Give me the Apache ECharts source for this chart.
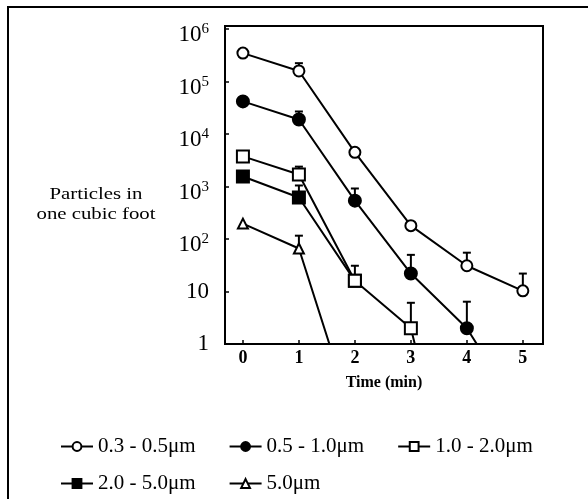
<!DOCTYPE html>
<html>
<head>
<meta charset="utf-8">
<script src="https://cdn.jsdelivr.net/npm/echarts@6/dist/echarts.min.js"></script>
<style>
html, body { margin: 0; padding: 0; background: #fff; }
#chart { width: 588px; height: 499px; }
</style>
</head>
<body>
<div id="chart"></div>
<script>
// 时间 (min)
var times = [0, 1, 2, 3, 4, 5]
var names = ['0.3 - 0.5μm', '0.5 - 1.0μm', '1.0 - 2.0μm', '2.0 - 5.0μm', '5.0μm']

// 每立方英尺粒子数 (values below 1 fall off the axis and get clipped)
var fine = [350000, 160000, 4500, 180, 31, 10.3]
var small = [42000, 19000, 540, 22, 2.0, 0.04]
var medium = [3760, 1700, 16, 2.0, 0.0001]
var large = [1560, 620, 16]
var coarse = [197, 66, 0.03]

// 误差线上端
var fineErr = [null, 225000, null, null, 55, 22]
var smallErr = [null, 27000, 920, 50, 6.4, null]
var mediumErr = [null, 2400, 31, 6.1, null]
var largeErr = [null, 1050, null]
var coarseErr = [null, 116, null]

var font = 'Liberation Serif'

function pairs (vals) {
  return vals.map(function (v, i) { return [times[i], v] })
}

function lineSeries (name, vals, symbol, size, filled, z) {
  return {
    name: name,
    type: 'line',
    data: pairs(vals),
    symbol: symbol,
    symbolSize: size,
    showAllSymbol: true,
    clip: true,
    z: z,
    lineStyle: { color: '#000', width: 2 },
    itemStyle: { color: filled ? '#000' : '#fff', borderColor: '#000', borderWidth: 2 },
    emphasis: { disabled: true }
  }
}

function errorSeries (vals, tops) {
  var data = []
  tops.forEach(function (top, i) {
    if (top != null) data.push([times[i], vals[i], top])
  })
  return {
    type: 'custom',
    z: 1,
    silent: true,
    encode: { x: 0, y: [1, 2] },
    renderItem: function (params, api) {
      var base = api.coord([api.value(0), api.value(1)])
      var top = api.coord([api.value(0), api.value(2)])
      return {
        type: 'group',
        children: [
          { type: 'line', shape: { x1: base[0], y1: base[1], x2: top[0], y2: top[1] }, style: { stroke: '#000', lineWidth: 2 } },
          { type: 'line', shape: { x1: top[0] - 4, y1: top[1], x2: top[0] + 4, y2: top[1] }, style: { stroke: '#000', lineWidth: 2 } }
        ]
      }
    },
    data: data
  }
}

var legendBase = {
  orient: 'horizontal',
  left: 60,
  padding: 0,
  itemGap: 33,
  itemWidth: 32,
  itemHeight: 11,
  selectedMode: false,
  textStyle: { color: '#000', fontSize: 21, fontFamily: font }
}

var chart = echarts.init(document.getElementById('chart'))
chart.setOption({
  animation: false,
  backgroundColor: '#fff',
  textStyle: { fontFamily: font, color: '#000' },
  graphic: [
    // 外框 (only top and left edges are visible in the scan)
    { type: 'rect', shape: { x: 8, y: 7, width: 640, height: 560 }, style: { fill: 'none', stroke: '#000', lineWidth: 2 }, silent: true },
    {
      type: 'text',
      x: 96,
      y: 185,
      scaleX: 1.3,
      style: { text: 'Particles in\none cubic foot', x: 0, y: 0, align: 'center', verticalAlign: 'top', font: '16px "Liberation Serif"', lineHeight: 20, fill: '#000' },
      silent: true
    }
  ],
  legend: [
    Object.assign({}, legendBase, { top: 436, data: names.slice(0, 3) }),
    Object.assign({}, legendBase, { top: 473, data: names.slice(3) })
  ],
  grid: {
    left: 225,
    right: 45,
    top: 26,
    bottom: 155,
    show: true,
    borderColor: '#000',
    borderWidth: 2,
    backgroundColor: 'transparent',
    outerBoundsMode: 'none'
  },
  xAxis: {
    type: 'value',
    min: -0.32,
    max: 5.36,
    name: 'Time (min)',
    nameLocation: 'middle',
    nameGap: 31,
    nameTextStyle: { fontSize: 16, fontWeight: 'bold', color: '#000', fontFamily: font },
    axisLine: { show: true, onZero: false, lineStyle: { color: '#000', width: 2 } },
    axisTick: { show: true, inside: true, length: 4, lineStyle: { color: '#000', width: 1.5 } },
    splitLine: { show: false },
    axisLabel: {
      margin: 5,
      fontSize: 18,
      fontWeight: 'bold',
      color: '#000',
      showMinLabel: false,
      showMaxLabel: false,
      formatter: function (v) { return Math.abs(v - Math.round(v)) < 1e-6 ? String(Math.round(v)) : '' }
    }
  },
  yAxis: {
    type: 'log',
    logBase: 10,
    min: 1,
    max: 1.15e6,
    axisLine: { show: true, onZero: false, lineStyle: { color: '#000', width: 2 } },
    axisTick: { show: true, inside: true, length: 4, lineStyle: { color: '#000', width: 1.5 } },
    splitLine: { show: false },
    axisLabel: {
      margin: 16,
      color: '#000',
      showMaxLabel: false,
      formatter: function (v) {
        var e = Math.log10(v)
        var n = Math.round(e)
        if (Math.abs(e - n) > 1e-6) return ''
        if (n === 0) return '{n|1}'
        if (n === 1) return '{n|10}'
        return '{b|10}{s|' + n + '}'
      },
      rich: {
        n: { fontSize: 23, fontFamily: font, color: '#000' },
        b: { fontSize: 23, fontFamily: font, color: '#000', lineHeight: 24, verticalAlign: 'bottom' },
        s: { fontSize: 15, fontFamily: font, color: '#000', lineHeight: 35, verticalAlign: 'middle' }
      }
    }
  },
  series: [
    errorSeries(fine, fineErr),
    errorSeries(small, smallErr),
    errorSeries(medium, mediumErr),
    errorSeries(large, largeErr),
    errorSeries(coarse, coarseErr),
    lineSeries(names[0], fine, 'circle', 11, false, 6),
    lineSeries(names[1], small, 'circle', 12, true, 5),
    lineSeries(names[2], medium, 'rect', 12, false, 4),
    lineSeries(names[3], large, 'rect', 12, true, 3),
    lineSeries(names[4], coarse, 'triangle', 10, false, 2)
  ]
})
</script>
</body>
</html>
